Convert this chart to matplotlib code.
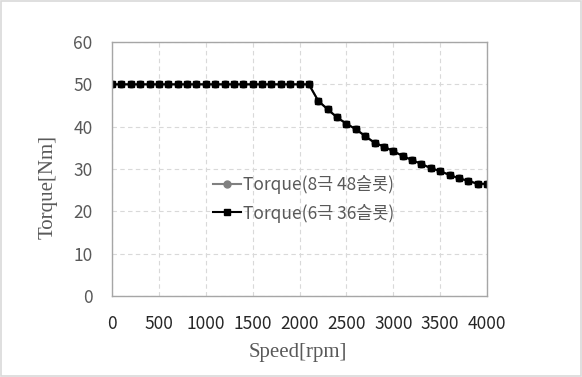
import matplotlib
matplotlib.use("Agg")
import matplotlib.pyplot as plt
from matplotlib.patches import Rectangle

speed = [0, 100, 200, 300, 400, 500, 600, 700, 800, 900, 1000,
         1100, 1200, 1300, 1400, 1500, 1600, 1700, 1800, 1900, 2000,
         2100, 2200, 2300, 2400, 2500, 2600, 2700, 2800, 2900, 3000,
         3100, 3200, 3300, 3400, 3500, 3600, 3700, 3800, 3900, 4000]
torque_8p48s = [50] * 22 + [46.1, 44.1, 42.2, 40.7, 39.4, 37.8, 36.2, 35.3, 34.2,
                            33.1, 32.1, 31.2, 30.2, 29.5, 28.6, 27.8, 27.2, 26.5, 26.5]
torque_6p36s = list(torque_8p48s)
labels = ["Torque(8극 48슬롯)", "Torque(6극 36슬롯)"]

plt.rcParams['font.family'] = ['Noto Sans CJK KR', 'DejaVu Sans']

W, H = 582, 377
fig = plt.figure(figsize=(W / 100, H / 100), dpi=100)
ax = fig.add_axes([112 / W, 1 - 296 / H, 375 / W, 254 / H])

ax.plot(speed, torque_8p48s, color='#808080', marker='o', markersize=5,
        linewidth=1.5, label=labels[0])
ax.plot(speed, torque_6p36s, color='black', marker='s', markersize=5,
        linewidth=1.5, label=labels[1])

ax.set_xlim(0, 4000)
ax.set_ylim(0, 60)
ax.set_xticks(range(0, 4001, 500))
ax.set_yticks(range(0, 61, 10))
ax.grid(True, color='#d9d9d9', linestyle=(0, (4, 3)), linewidth=0.8)
ax.set_axisbelow(True)
for s in ax.spines.values():
    s.set_color('#a6a6a6')
    s.set_linewidth(1.0)
ax.tick_params(length=0)
ax.tick_params(axis='y', labelcolor='#595959', labelsize=12.5, pad=14)
ax.tick_params(axis='x', labelcolor='#262626', labelsize=12.5, pad=14)

# axis titles placed by hand (the y title sits a bit low in the original)
fig.text(298 / W, 1 - 352 / H, "Speed[rpm]", family='Liberation Serif', fontsize=15,
         color='#595959', ha='center', va='center')
fig.text(48 / W, 1 - 187 / H, "Torque[Nm]", family='Liberation Serif', fontsize=15,
         color='#595959', ha='center', va='center', rotation=90)

ax.legend(loc='upper left', bbox_to_anchor=(213 / W, 1 - 175 / H), bbox_transform=fig.transFigure,
          frameon=False, fontsize=12.5, labelcolor='#595959',
          handlelength=1.6, handletextpad=0.15, borderpad=0, borderaxespad=0,
          labelspacing=0.55)

fig.patches.append(Rectangle((0.002, 0.003), 0.996, 0.994, transform=fig.transFigure,
                             fill=False, edgecolor='#d9d9d9', linewidth=1.2))

fig.savefig("out.png", dpi=100)
